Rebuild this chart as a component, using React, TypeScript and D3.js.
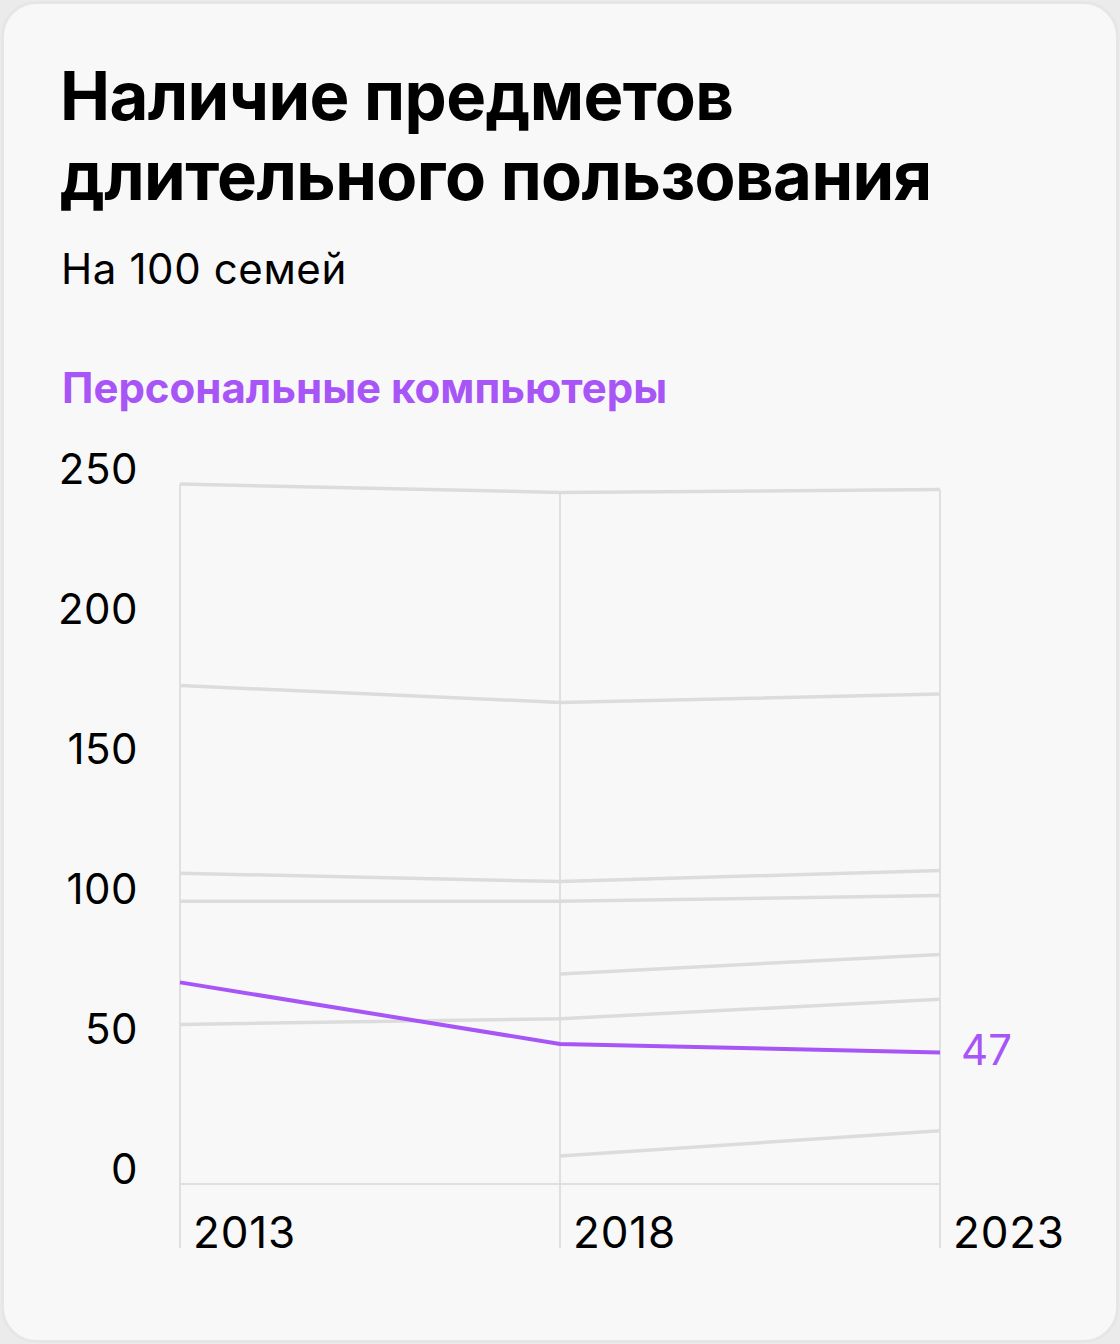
import React from "react";
import * as d3 from "d3";

const years = [2013, 2018, 2023];
const greySeries: (number | null)[][] = [
  [250, 247, 248],
  [178, 172, 175],
  [111, 108, 112],
  [101, 101, 103],
  [null, 75, 82],
  [57, 59, 66],
  [null, 10, 19],
];
const pcValues = [72, 50, 47];
const yTicks = [0, 50, 100, 150, 200, 250];
const title = ["Наличие предметов", "длительного пользования"];
const subtitle = "На 100 семей";
const seriesName = "Персональные компьютеры";

const W = 1120;
const H = 1344;
const PURPLE = "#a855f7";
const FONT = "Inter, 'Noto Sans', sans-serif";

export default function App() {
  const x = d3.scalePoint<number>().domain(years).range([180, 940]);
  const y = d3.scaleLinear().domain([0, 250]).range([1184, 484]);

  const line = d3
    .line<number | null>()
    .defined((d) => d != null)
    .x((_, i) => x(years[i])!)
    .y((d) => y(d as number));

  const maxAt = years.map((_, i) =>
    d3.max(greySeries.concat([pcValues]), (s) => (s[i] == null ? -Infinity : (s[i] as number)))!
  );

  return (
    <svg
      width={W}
      height={H}
      style={{ position: "absolute", left: 0, top: 0, display: "block" }}
    >
      <rect x={0} y={0} width={W} height={H} fill="#ebebeb" />
      <rect x={2.5} y={2.5} width={W - 5} height={H - 5} rx={34} fill="#f8f8f8" stroke="#e6e6e6" strokeWidth={3} />

      <text fontFamily={FONT} fontWeight={700} fontSize={67} fill="#000" letterSpacing={-0.6}>
        <tspan x={60} y={120}>{title[0]}</tspan>
        <tspan x={60} y={200}>{title[1]}</tspan>
      </text>
      <text x={61} y={284} fontFamily={FONT} fontSize={42} fill="#000" letterSpacing={0.6}>{subtitle}</text>
      <text x={62} y={403} fontFamily={FONT} fontWeight={700} fontSize={42} fill={PURPLE}>{seriesName}</text>

      {years.map((yr, i) => (
        <line
          key={"v" + yr}
          x1={x(yr)}
          x2={x(yr)}
          y1={y(maxAt[i])}
          y2={1248}
          stroke="#d9d9d9"
          strokeWidth={1.5}
        />
      ))}
      <line x1={x(2013)} x2={x(2023)} y1={y(0)} y2={y(0)} stroke="#d9d9d9" strokeWidth={1.5} />

      {yTicks.map((t) => (
        <text key={"t" + t} x={138} y={y(t)} textAnchor="end" fontFamily={FONT} fontSize={42} fill="#000" letterSpacing={0.5}>
          {t}
        </text>
      ))}
      {years.map((yr) => (
        <text key={"x" + yr} x={x(yr)! + 13} y={1248} fontFamily={FONT} fontSize={44} fill="#000" letterSpacing={0.8}>
          {yr}
        </text>
      ))}

      {greySeries.map((s, i) => (
        <path key={"g" + i} d={line(s) || ""} fill="none" stroke="#dcdcdc" strokeWidth={3.5} />
      ))}
      <path d={line(pcValues) || ""} fill="none" stroke={PURPLE} strokeWidth={4} />
      <text x={x(2023)! + 21} y={y(pcValues[2]) + 13} fontFamily={FONT} fontSize={42} fill={PURPLE}>
        {pcValues[2]}
      </text>
    </svg>
  );
}
